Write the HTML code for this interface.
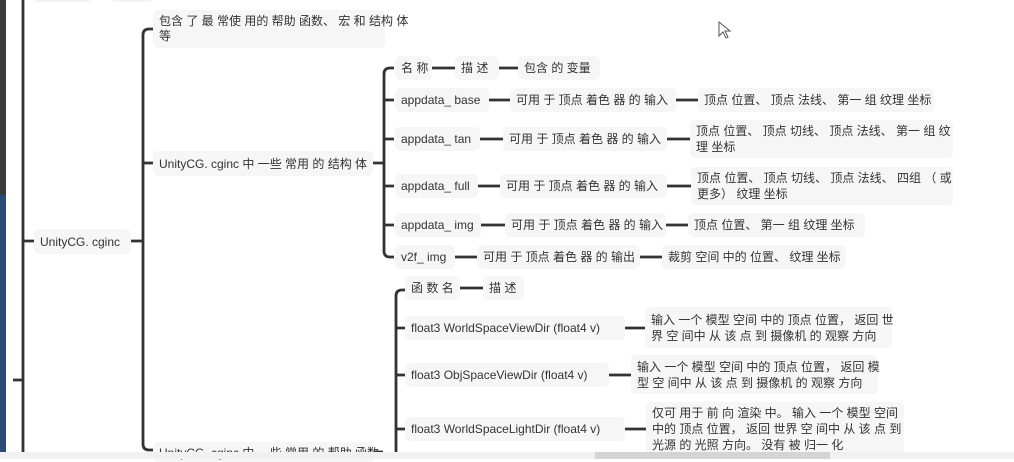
<!DOCTYPE html>
<html><head><meta charset="utf-8"><style>
body{margin:0;width:1014px;height:459px;overflow:hidden;background:#fff;position:relative;font-family:"Liberation Sans","Noto Sans CJK SC",sans-serif;color:#333;font-size:12px}
.n{position:absolute;background:#f6f6f6;border-radius:5px;display:flex;align-items:center;padding-left:6px;box-sizing:border-box;line-height:16px;white-space:nowrap}
svg{position:absolute;left:0;top:0}
</style></head><body>
<div style="position:absolute;left:0;top:0;width:6px;height:195px;background:#3b3b3b"></div>
<div style="position:absolute;left:0;top:195px;width:6px;height:264px;background:#2c4a78"></div>
<div style="position:absolute;left:35px;top:0;width:55px;height:2px;background:#f3f3f3"></div>
<div style="position:absolute;left:113px;top:0;width:38px;height:2px;background:#f3f3f3"></div>
<svg width="1014" height="459" fill="none" stroke="#333" stroke-width="2.8">
<path d="M23 0V452M13 380H23M23 241H34"/>
<path d="M131 241H143M153 29H149Q143 29 143 35V444Q143 450 149 450H153M143 163H153"/>
<path d="M373 163H384M394 68H390Q384 68 384 74V251Q384 257 390 257H394M384 100H394M384 139H394M384 186H394M384 225H394"/>
<path d="M432 68H455M499 68H520M489 100H510M676 100H698M480 139H503M667 139H690M478 186H500M667 186H691M481 225H505M666 225H688M455 257H477M640 257H662"/>
<path d="M396 455V296Q396 290 402 290H406M396 328H406M396 375H406M396 429H406"/>
<path d="M460 288H483M625 328H645M609 375H631M625 429H646M375 452H383"/>
</svg>
<div class="n" style="left:34px;top:229px;width:97px;height:25px">UnityCG. cginc</div>
<div class="n" style="left:153px;top:10px;width:232px;height:38px;line-height:15px">包含 了 最 常使 用的 帮助 函数、 宏 和 结构 体<br>等</div>
<div class="n" style="left:153px;top:151px;width:220px;height:25px">UnityCG. cginc 中 一些 常用 的 结构 体</div>
<div class="n" style="left:153px;top:442px;width:222px;height:20px;align-items:flex-start;padding-top:3px">UnityCG. cginc 中 一些 常用 的 帮助 函数</div>

<div class="n" style="left:395px;top:56px;width:37px;height:24px">名 称</div>
<div class="n" style="left:455px;top:56px;width:44px;height:24px">描 述</div>
<div class="n" style="left:518px;top:56px;width:82px;height:24px">包含 的 变量</div>

<div class="n" style="left:395px;top:88px;width:94px;height:24px">appdata_ base</div>
<div class="n" style="left:510px;top:88px;width:166px;height:24px">可用 于 顶点 着色 器 的 输入</div>
<div class="n" style="left:698px;top:88px;width:236px;height:24px">顶点 位置、 顶点 法线、 第一 组 纹理 坐标</div>

<div class="n" style="left:395px;top:127px;width:85px;height:24px">appdata_ tan</div>
<div class="n" style="left:503px;top:127px;width:164px;height:24px">可用 于 顶点 着色 器 的 输入</div>
<div class="n" style="left:690px;top:120px;width:263px;height:38px">顶点 位置、 顶点 切线、 顶点 法线、 第一 组 纹<br>理 坐标</div>

<div class="n" style="left:395px;top:174px;width:83px;height:24px">appdata_ full</div>
<div class="n" style="left:500px;top:174px;width:167px;height:24px">可用 于 顶点 着色 器 的 输入</div>
<div class="n" style="left:691px;top:167px;width:262px;height:38px">顶点 位置、 顶点 切线、 顶点 法线、 四组 （ 或<br>更多） 纹理 坐标</div>

<div class="n" style="left:395px;top:213px;width:86px;height:24px">appdata_ img</div>
<div class="n" style="left:505px;top:213px;width:161px;height:24px">可用 于 顶点 着色 器 的 输入</div>
<div class="n" style="left:688px;top:213px;width:177px;height:24px">顶点 位置、 第一 组 纹理 坐标</div>

<div class="n" style="left:395px;top:245px;width:60px;height:24px">v2f_ img</div>
<div class="n" style="left:477px;top:245px;width:163px;height:24px">可用 于 顶点 着色 器 的 输出</div>
<div class="n" style="left:662px;top:245px;width:184px;height:24px">裁剪 空间 中的 位置、 纹理 坐标</div>

<div class="n" style="left:405px;top:276px;width:55px;height:24px">函 数 名</div>
<div class="n" style="left:483px;top:276px;width:41px;height:24px">描 述</div>

<div class="n" style="left:405px;top:316px;width:220px;height:24px">float3 WorldSpaceViewDir (float4 v)</div>
<div class="n" style="left:645px;top:307px;width:247px;height:41px">输入 一个 模型 空间 中的 顶点 位置， 返回 世<br>界 空 间中 从 该 点 到 摄像机 的 观察 方向</div>

<div class="n" style="left:405px;top:363px;width:204px;height:24px">float3 ObjSpaceViewDir (float4 v)</div>
<div class="n" style="left:631px;top:355px;width:247px;height:39px">输入 一个 模型 空间 中的 顶点 位置， 返回 模<br>型 空 间中 从 该 点 到 摄像机 的 观察 方向</div>

<div class="n" style="left:405px;top:417px;width:220px;height:24px">float3 WorldSpaceLightDir (float4 v)</div>
<div class="n" style="left:646px;top:402px;width:258px;height:54px;align-items:flex-start;padding-top:3px">仅可 用于 前 向 渲染 中。 输入 一个 模型 空间<br>中的 顶点 位置， 返回 世界 空 间中 从 该 点 到<br>光源 的 光照 方向。 没有 被 归一 化</div>

<svg width="1014" height="459" style="pointer-events:none"><path d="M719 22V36L723 32L726 38L728 37L725 31L730 31Z" fill="#fff" stroke="#555" stroke-width="1"/></svg>
<div style="position:absolute;left:0;top:452px;width:1014px;height:7px;background:#f1f1f1"></div>
<div style="position:absolute;left:595px;top:452px;width:235px;height:7px;background:#d4d4d4"></div>
</body></html>
